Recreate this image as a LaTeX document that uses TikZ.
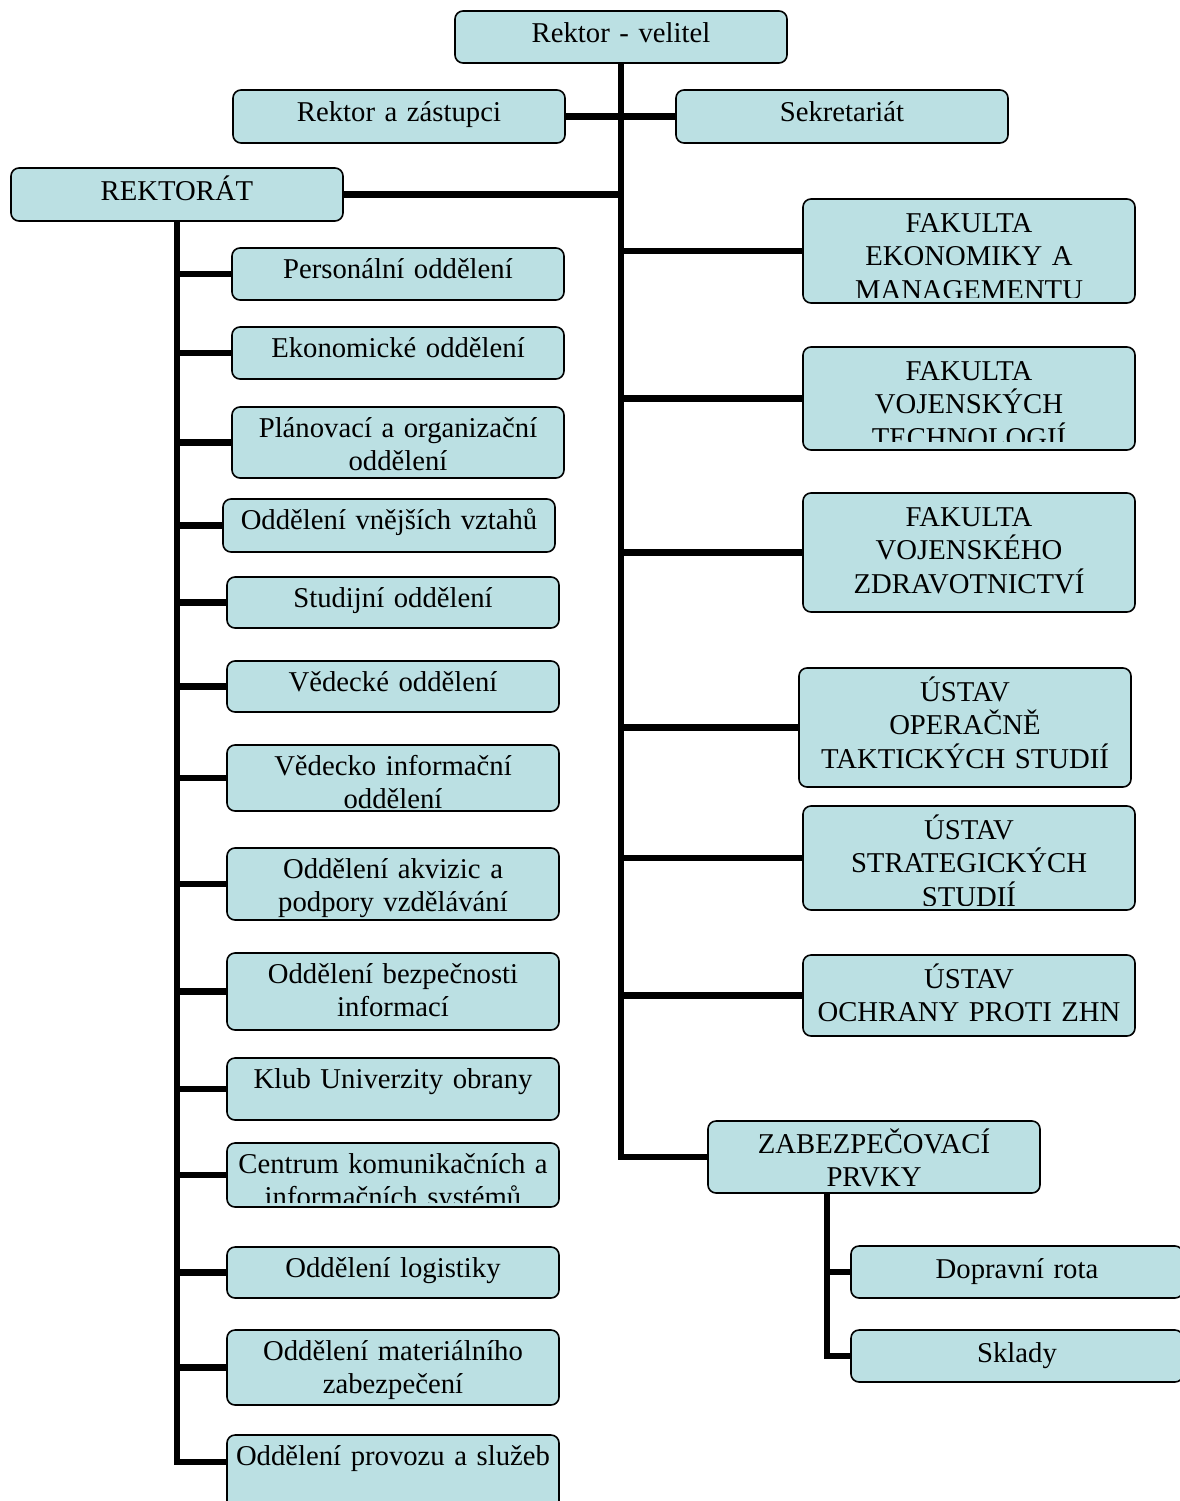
\documentclass[tikz,border=0pt]{standalone}
\usepackage{fontspec}
\setmainfont{Liberation Serif}
\usepackage{tikz}

\definecolor{unitblue}{RGB}{187,224,227}

\begin{document}
\begin{tikzpicture}[x = 1pt, y = -1pt,
        unit/.style = {shape = rectangle, draw = black, fill = unitblue, line width = 1.6pt,
            rounded corners = 8pt, inner xsep = 1pt, inner ysep = 0pt, outer sep = 0pt,
            text width = 330pt, align = center, anchor = north,
            font = \fontsize{28.7pt}{33.7pt}\selectfont, text height = 32pt, text depth = #1},
        office/.style = {unit = #1, text height = 30pt},
        school/.style = {unit = #1, text height = 33pt},
        bare/.style = {draw = none, fill = none},
        link/.style = {draw = black, line width = 6.4pt}]

            \useasboundingbox (0, 0) rectangle (1179, 1501);

            \node [unit = 20pt] (rv) at (621, 11) {Rektor - velitel};
            \node [unit = 21pt] (rz) at (399, 90) {Rektor a zástupci};
            \node [unit = 21pt] (sek) at (842, 90) {Sekretariát};
            \node [unit = 21pt] (rek) at (177, 168) {REKTORÁT};

            \node [office = 22pt] (per) at (398, 248) {Personální oddělení};
            \node [office = 22pt] (eko) at (398, 327) {Ekonomické oddělení};
            \node [office = 41pt] (plan) at (398, 407) {Plánovací a organizační\\oddělení};
            \node [office = 23pt] (vnej) at (389, 499) {Oddělení vnějších vztahů};
            \node [office = 21pt] (stud) at (393, 577) {Studijní oddělení};
            \node [office = 21pt] (ved) at (393, 661) {Vědecké oddělení};
            \node [office = 36pt] (vi) at (393, 745) {};
            \begin{scope}
                \clip (vi.north west) rectangle ([yshift = 3pt] vi.south east);
                \node [office = 36pt, bare] (vi-t) at (393, 745) {Vědecko informační\\oddělení};
            \end{scope}
            \node [office = 42pt] (akv) at (393, 848) {};
            \begin{scope}
                \clip (akv.north west) rectangle ([yshift = 3pt] akv.south east);
                \node [office = 42pt, bare] (akv-t) at (393, 848) {Oddělení akvizic a\\podpory vzdělávání};
            \end{scope}
            \node [office = 47pt] (bez) at (393, 953) {Oddělení bezpečnosti\\informací};
            \node [office = 32pt] (klub) at (393, 1058) {Klub Univerzity obrany};
            \node [office = 34pt] (ckis) at (393, 1143) {};
            \begin{scope}
                \clip (ckis.north west) rectangle ([yshift = 5pt] ckis.south east);
                \node [office = 34pt, bare] (ckis-t) at (393, 1143) {Centrum komunikačních a\\informačních systémů};
            \end{scope}
            \node [office = 21pt] (log) at (393, 1247) {Oddělení logistiky};
            \node [office = 45pt] (mat) at (393, 1330) {Oddělení materiálního\\zabezpečení};
            \node [office = 50pt] (prov) at (393, 1435) {Oddělení provozu a služeb};

            \node [school = 71pt] (fem) at (969, 199) {};
            \begin{scope}
                \clip (fem.north west) rectangle ([yshift = 6pt] fem.south east);
                \node [school = 71pt, bare] (fem-t) at (969, 199) {FAKULTA\\EKONOMIKY A\\MANAGEMENTU};
            \end{scope}
            \node [school = 70pt] (fvt) at (969, 347) {};
            \begin{scope}
                \clip (fvt.north west) rectangle ([yshift = 9pt] fvt.south east);
                \node [school = 70pt, bare] (fvt-t) at (969, 347) {FAKULTA\\VOJENSKÝCH\\TECHNOLOGIÍ};
            \end{scope}
            \node [school = 86pt] (fvz) at (969, 493) {FAKULTA\\VOJENSKÉHO\\ZDRAVOTNICTVÍ};
            \node [school = 86pt] (uots) at (965, 668) {ÚSTAV\\OPERAČNĚ\\TAKTICKÝCH STUDIÍ};
            \node [school = 71pt] (uss) at (969, 806) {};
            \begin{scope}
                \clip (uss.north west) rectangle ([yshift = 5pt] uss.south east);
                \node [school = 71pt, bare] (uss-t) at (969, 806) {ÚSTAV\\STRATEGICKÝCH\\STUDIÍ};
            \end{scope}
            \node [school = 48pt] (uoz) at (969, 955) {ÚSTAV\\OCHRANY PROTI ZHN};
            \node [unit = 40pt] (zab) at (874, 1121) {ZABEZPEČOVACÍ\\PRVKY};
            \node [unit = 20pt] (dop) at (1017, 1246) {Dopravní rota};
            \node [unit = 20pt] (skl) at (1017, 1330) {Sklady};
            \coordinate (zab-down) at (827, 1193);

            \draw [link] (rv.south) |- (rz.east);
            \draw [link] (rv.south) |- (sek.west);
            \draw [link] (rv.south) |- (rek.east);
            \draw [link] (rv.south) |- (fem.west);
            \draw [link] (rv.south) |- (fvt.west);
            \draw [link] (rv.south) |- (fvz.west);
            \draw [link] (rv.south) |- (uots.west);
            \draw [link] (rv.south) |- (uss.west);
            \draw [link] (rv.south) |- (uoz.west);
            \draw [link] (rv.south) |- (zab.west);

            \draw [link] (rek.south) |- (per.west);
            \draw [link] (rek.south) |- (eko.west);
            \draw [link] (rek.south) |- (plan.west);
            \draw [link] (rek.south) |- (vnej.west);
            \draw [link] (rek.south) |- (stud.west);
            \draw [link] (rek.south) |- (ved.west);
            \draw [link] (rek.south) |- (vi.west);
            \draw [link] (rek.south) |- (akv.west);
            \draw [link] (rek.south) |- (bez.west);
            \draw [link] (rek.south) |- (klub.west);
            \draw [link] (rek.south) |- (ckis.west);
            \draw [link] (rek.south) |- (log.west);
            \draw [link] (rek.south) |- (mat.west);
            \draw [link] (rek.south) |- ([yshift = -27pt] prov.north west);

            \draw [link] (zab-down) |- (dop.west);
            \draw [link] (zab-down) |- (skl.west);
        \end{tikzpicture}
\end{document}
